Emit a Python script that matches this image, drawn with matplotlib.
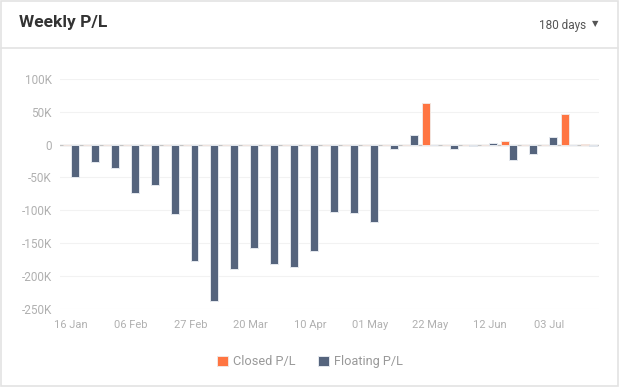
import numpy as np
import matplotlib.pyplot as plt
from matplotlib.patches import Rectangle
from matplotlib.lines import Line2D

# weekly values (in dollars), one entry per week starting 16 Jan
weeks = ['16 Jan', '23 Jan', '30 Jan', '06 Feb', '13 Feb', '20 Feb', '27 Feb', '06 Mar', '13 Mar',
         '20 Mar', '27 Mar', '03 Apr', '10 Apr', '17 Apr', '24 Apr', '01 May', '08 May', '15 May',
         '22 May', '29 May', '05 Jun', '12 Jun', '19 Jun', '26 Jun', '03 Jul', '10 Jul', '17 Jul']
closed_pl = [0, 0, 0, 0, 0, 0, 0, 0, 0, 0, 0, 0, 0, 0, 0, 0, 0, 0,
             63000, 0, 0, 0, 6000, 0, 0, 46000, 1500]
floating_pl = [-50000, -27000, -35000, -73000, -62000, -105000, -177000, -238000, -189000,
               -158000, -182000, -187000, -162000, -103000, -104000, -118000, -6000, 15000,
               -1000, -6000, -2500, 2500, -23000, -15000, 11000, -1000, -2500]
tick_every = 3
y_ticks = [100000, 50000, 0, -50000, -100000, -150000, -200000, -250000]
y_labels = ['100K', '50K', '0', '-50K', '-100K', '-150K', '-200K', '-250K']

ORANGE = '#FF7542'
SLATE = '#55647D'
plt.rcParams['font.family'] = ['Roboto', 'DejaVu Sans']

fig = plt.figure(figsize=(6.2, 3.87), dpi=100)

# card frame and header separator
fig.patches.append(Rectangle((0.002, 0.002), 0.994, 0.996, transform=fig.transFigure,
                             fill=False, edgecolor='#e3e3e3', linewidth=1.2))
fig.lines.append(Line2D([0.002, 0.996], [1 - 48 / 387, 1 - 48 / 387], transform=fig.transFigure,
                        color='#e3e3e3', linewidth=1.2))
fig.text(19 / 620, 1 - 23 / 387, 'Weekly P/L', fontsize=12.5, fontweight='bold',
         color='#333333', va='center', ha='left')
fig.text(586 / 620, 1 - 25 / 387, '180 days', fontsize=8.5, color='#555555', va='center', ha='right')
fig.text(598 / 620, 1 - 24 / 387, '▼', fontsize=6, color='#555555', va='center', ha='right',
         family='DejaVu Sans')

ax = fig.add_axes([60 / 620, 78.3 / 387, 539 / 620, 229.7 / 387])
x = np.arange(len(weeks))
w = 0.4
ax.bar(x - w / 2, closed_pl, width=w, color=ORANGE, edgecolor='#f3e6e0', linewidth=0.7,
       label='Closed P/L', zorder=3)
ax.bar(x + w / 2, floating_pl, width=w, color=SLATE, edgecolor='#e4e8ee', linewidth=0.7,
       label='Floating P/L', zorder=3)

ax.set_xlim(-0.55, 26.5)
ax.set_ylim(-250000, 100000)
ax.set_yticks(y_ticks)
ax.set_yticklabels(y_labels)
ax.set_xticks(x[::tick_every])
ax.set_xticklabels(weeks[::tick_every])
ax.grid(axis='y', color='#f2f2f2', linewidth=0.8, zorder=0)
ax.axhline(0, color='#c4c4c4', linewidth=1, zorder=2)
for s in ax.spines.values():
    s.set_visible(False)
ax.tick_params(length=0, labelsize=8, labelcolor='#b0b0b0')
ax.tick_params(axis='y', pad=6, labelsize=8.5)
ax.tick_params(axis='x', pad=8)

leg = fig.legend(loc='center', bbox_to_anchor=(310 / 620, 1 - 362 / 387), ncol=2, frameon=False,
                 fontsize=9.2, handlelength=0.85, handleheight=0.85, handletextpad=0.4,
                 columnspacing=1.7)
for t in leg.get_texts():
    t.set_color('#999999')

fig.savefig('out.png', dpi=100)
